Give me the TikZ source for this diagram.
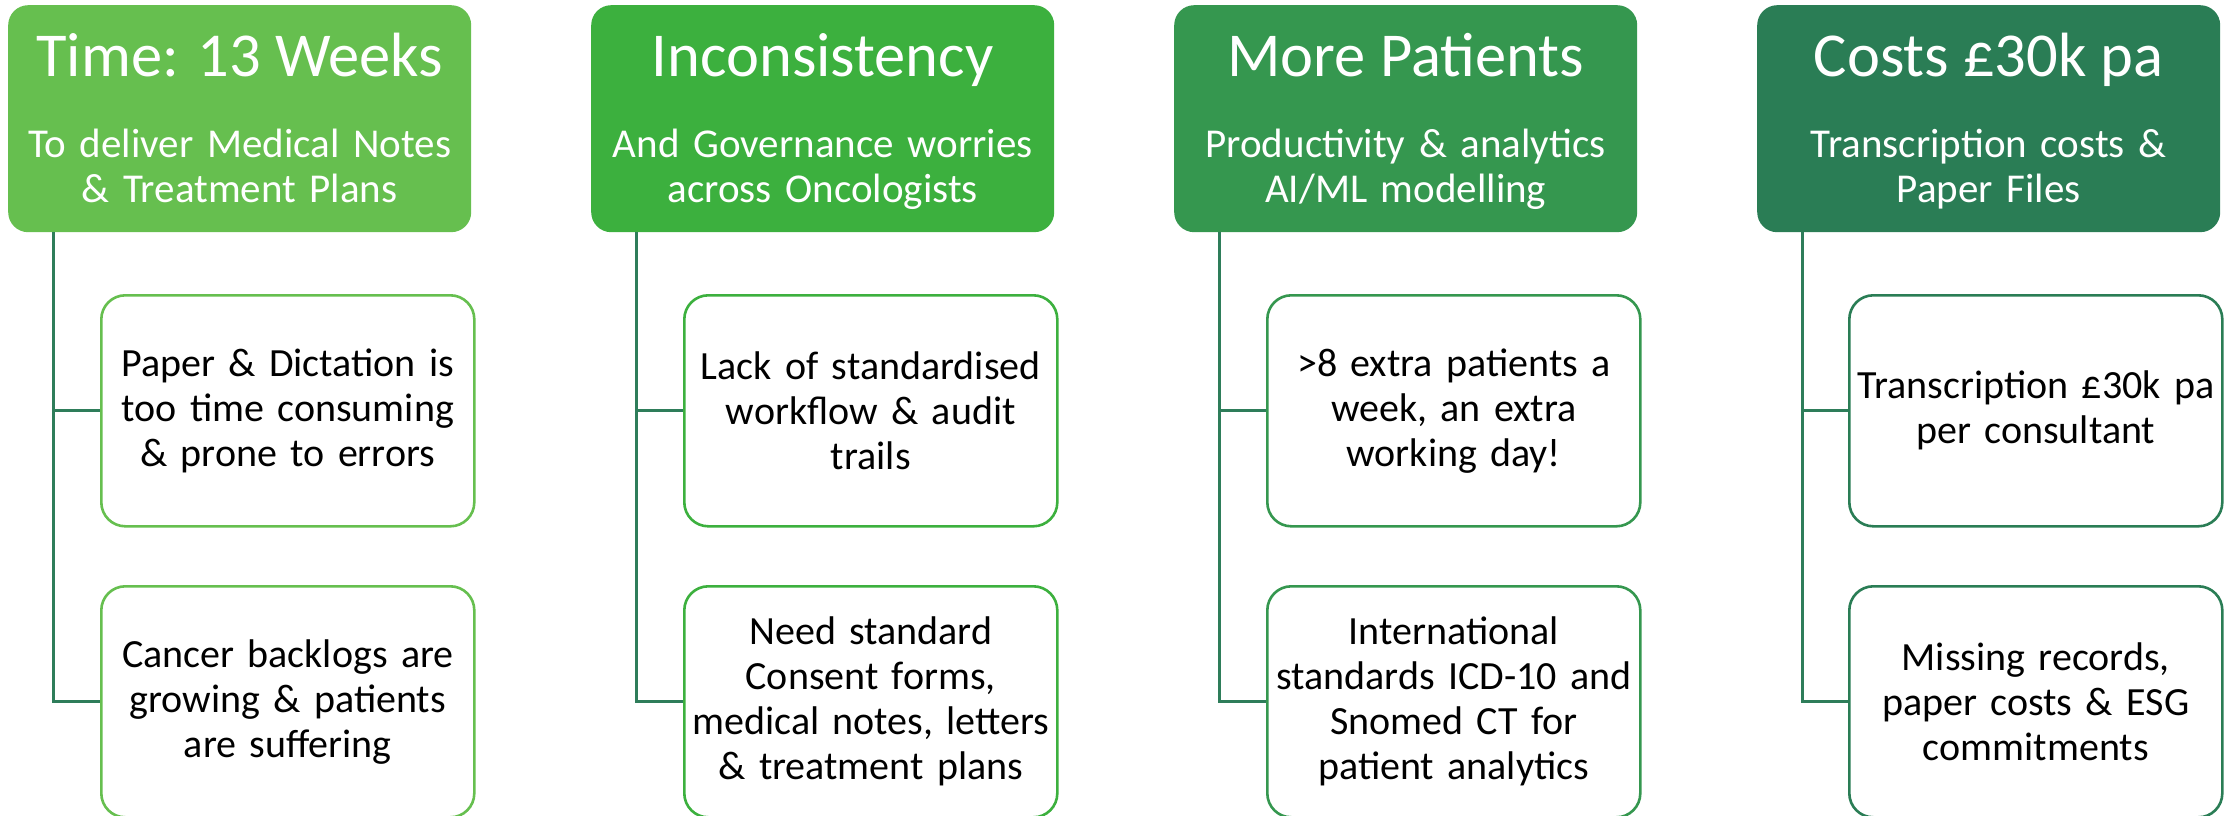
\documentclass[tikz,border=0pt]{standalone}
\usepackage{fontspec}
\setmainfont{Carlito}
\definecolor{hA}{HTML}{66BF4F}
\definecolor{hB}{HTML}{3CB03E}
\definecolor{hC}{HTML}{35974F}
\definecolor{hD}{HTML}{2A7D55}
\definecolor{linec}{HTML}{2E7D5A}
\newcommand{\ttlfont}{\fontsize{62.5}{70}\selectfont}
\newcommand{\subfont}{\fontsize{41}{45}\selectfont}
\newcommand{\kidfont}{\fontsize{40}{45}\selectfont}
\begin{document}
\begin{tikzpicture}[x=1pt,y=1pt,
  head/.style={rounded corners=20pt, minimum width=463pt, minimum height=227pt, inner sep=0pt, anchor=north west},
  ttl/.style={text=white, font=\ttlfont, anchor=base, inner sep=0pt},
  sub/.style={text=white, font=\subfont, anchor=base, inner sep=0pt, align=center, text width=460pt},
  kid/.style={draw, line width=2.6pt, rounded corners=24pt, fill=white, minimum width=373pt, minimum height=231pt, inner sep=0pt, anchor=north west, align=center, text width=370pt, font=\kidfont, text=black},
  conn/.style={draw=linec, line width=3pt},
]
\useasboundingbox (0,0) rectangle (2226,-816);
% ---- column 1
\node[head, fill=hA] (h1) at (8,-5) {};
\node[ttl] (t1) at ([yshift=-72pt]h1.north) {Time: 13 Weeks};
\node[sub] (s1) at ([yshift=-152pt]h1.north) {To deliver Medical Notes\\ \& Treatment Plans};
\node[kid, draw=hA] (a1) at (100,-294) {Paper \& Dictation is\\ too time consuming\\ \& prone to errors};
\node[kid, draw=hA] (b1) at (100,-585) {Cancer backlogs are\\ growing \& patients\\ are suffering};
% ---- column 2
\node[head, fill=hB] (h2) at (591,-5) {};
\node[ttl] (t2) at ([yshift=-72pt]h2.north) {Inconsistency};
\node[sub] (s2) at ([yshift=-152pt]h2.north) {And Governance worries\\ across Oncologists};
\node[kid, draw=hB] (a2) at (683,-294) {Lack of standardised\\ workflow \& audit\\ trails};
\node[kid, draw=hB] (b2) at (683,-585) {Need standard\\ Consent forms,\\ medical notes, letters\\ \& treatment plans};
% ---- column 3
\node[head, fill=hC] (h3) at (1174,-5) {};
\node[ttl] (t3) at ([yshift=-72pt]h3.north) {More Patients};
\node[sub] (s3) at ([yshift=-152pt]h3.north) {Productivity \& analytics\\ AI/ML modelling};
\node[kid, draw=hC] (a3) at (1266,-294) {>8 extra patients a\\ week, an extra\\ working day!};
\node[kid, draw=hC] (b3) at (1266,-585) {International\\ standards ICD-10 and\\ Snomed CT for\\ patient analytics};
% ---- column 4
\node[head, fill=hD] (h4) at (1757,-5) {};
\node[ttl] (t4) at ([yshift=-72pt]h4.north) {Costs £30k pa};
\node[sub] (s4) at ([yshift=-152pt]h4.north) {Transcription costs \&\\ Paper Files};
\node[kid, draw=hD] (a4) at (1848,-294) {Transcription £30k pa\\ per consultant};
\node[kid, draw=hD] (b4) at (1848,-585) {Missing records,\\ paper costs \& ESG\\ commitments};
% ---- connectors
\foreach \i/\x in {1/53,2/636,3/1219,4/1802}{
  \draw[conn] (\x,0 |- h\i.south) |- (a\i.west);
  \draw[conn] (\x,0 |- h\i.south) |- (b\i.west);
}
\end{tikzpicture}
\end{document}
